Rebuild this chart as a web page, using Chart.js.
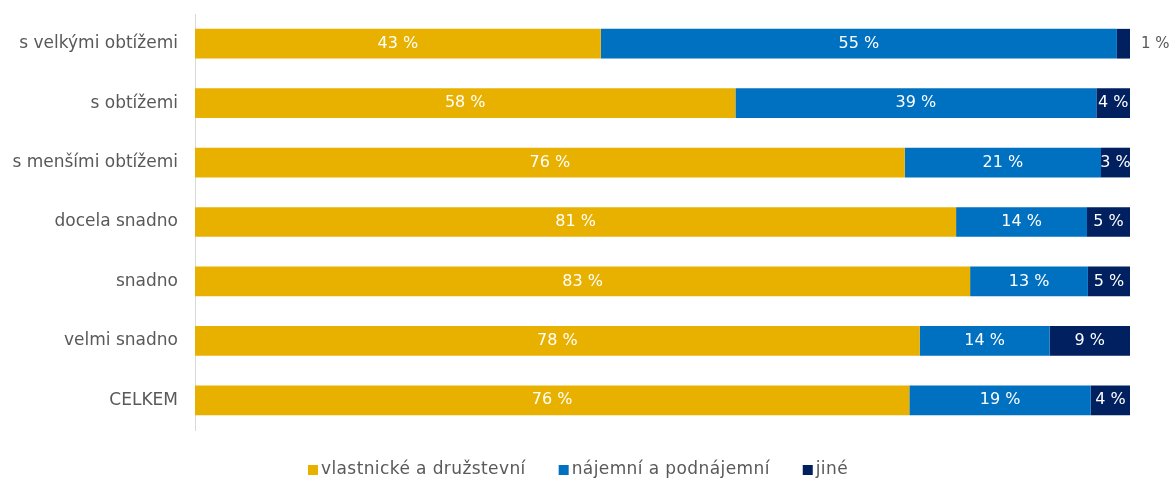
<!DOCTYPE html>
<html>
<head>
<meta charset="utf-8">
<script src="https://cdn.jsdelivr.net/npm/chart.js@4"></script>
<style>
html,body{margin:0;padding:0;background:#fff;}
#wrap{width:1173px;height:480px;position:relative;}
</style>
</head>
<body>
<div id="wrap"><canvas id="c" width="1173" height="480"></canvas></div>
<script>
const categories = ["s velkými obtížemi","s obtížemi","s menšími obtížemi","docela snadno","snadno","velmi snadno","CELKEM"];
const seriesNames = ["vlastnické a družstevní","nájemní a podnájemní","jiné"];
const ownValues = [43.4, 57.8, 75.9, 81.4, 82.9, 77.5, 76.4];
const rentValues = [55.2, 38.6, 21.0, 14.0, 12.6, 13.9, 19.4];
const otherValues = [1.4, 3.6, 3.1, 4.6, 4.5, 8.6, 4.2];
const seriesColors = ["#E8B100", "#0070C0", "#002060"];

const FONT = "'Century Gothic','URW Gothic','DejaVu Sans',sans-serif";

const labelPlugin = {
  id: 'segLabels',
  afterDatasetsDraw(chart) {
    const ctx = chart.ctx;
    ctx.save();
    ctx.textBaseline = 'middle';
    chart.data.datasets.forEach((ds, di) => {
      const meta = chart.getDatasetMeta(di);
      meta.data.forEach((bar, i) => {
        const v = ds.data[i];
        const txt = Math.round(v) + " %";
        const left = Math.min(bar.x, bar.base), right = Math.max(bar.x, bar.base);
        const w = right - left;
        if (w < 16) {
          ctx.font = "15px " + FONT;
          ctx.fillStyle = '#595959';
          ctx.textAlign = 'left';
          ctx.fillText(txt, right + 11, bar.y);
        } else {
          ctx.font = "16px " + FONT;
          ctx.fillStyle = '#FFFFFF';
          ctx.textAlign = 'center';
          ctx.fillText(txt, (left + right) / 2, bar.y);
        }
      });
    });
    ctx.restore();
  }
};

const legendPlugin = {
  id: 'customLegend',
  afterDraw(chart) {
    const ctx = chart.ctx;
    ctx.save();
    ctx.font = "17px " + FONT;
    try { ctx.letterSpacing = '0.4px'; } catch (e) {}
    ctx.textBaseline = 'middle';
    ctx.textAlign = 'left';
    const box = 10, gapText = 3, gapItem = 33;
    const items = chart.data.datasets.map(ds => ({ text: ds.label, color: ds.backgroundColor, w: ctx.measureText(ds.label).width }));
    let total = 0;
    items.forEach((it, k) => { total += box + gapText + it.w + (k < items.length - 1 ? gapItem : 0); });
    let x = 578 - total / 2;
    const y = 470;
    items.forEach(it => {
      ctx.fillStyle = it.color;
      ctx.fillRect(x, y - box / 2, box, box);
      x += box + gapText;
      ctx.fillStyle = '#595959';
      ctx.fillText(it.text, x, y);
      x += it.w + gapItem;
    });
    ctx.restore();
  }
};

new Chart(document.getElementById('c'), {
  type: 'bar',
  data: {
    labels: categories,
    datasets: [
      { label: seriesNames[0], data: ownValues, backgroundColor: seriesColors[0] },
      { label: seriesNames[1], data: rentValues, backgroundColor: seriesColors[1] },
      { label: seriesNames[2], data: otherValues, backgroundColor: seriesColors[2] }
    ]
  },
  options: {
    indexAxis: 'y',
    responsive: false,
    animation: false,
    layout: { padding: { left: 0, right: 43, top: 14, bottom: 50 } },
    datasets: { bar: { categoryPercentage: 0.5, barPercentage: 1.0, borderWidth: 0 } },
    scales: {
      x: { stacked: true, display: false, min: 0, max: 100 },
      y: {
        stacked: true,
        afterFit(scale) { scale.width = 195; scale.paddingTop = 0; scale.paddingBottom = 0; },
        grid: { display: false, drawTicks: false },
        border: { display: true, color: '#D9D9D9', width: 1 },
        ticks: { color: '#595959', font: { size: 17, family: FONT }, padding: 17 }
      }
    },
    plugins: {
      legend: { display: false },
      tooltip: { enabled: false }
    }
  },
  plugins: [labelPlugin, legendPlugin]
});
</script>
</body>
</html>
